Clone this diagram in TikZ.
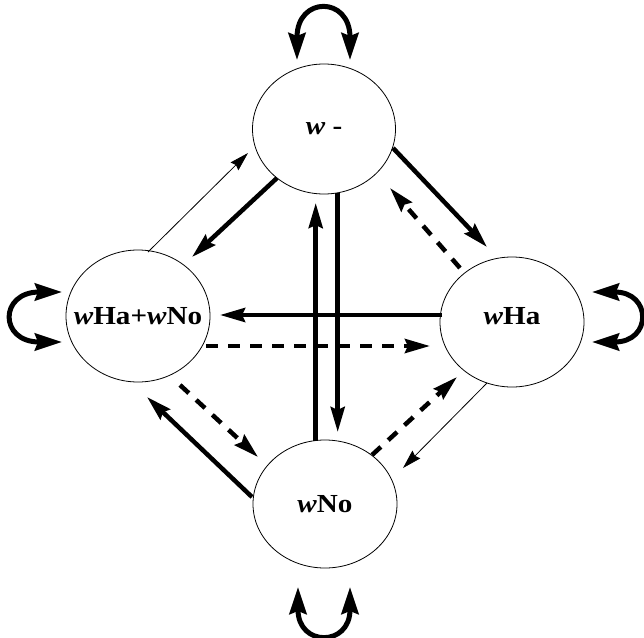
\documentclass[tikz,border=0pt]{standalone}
\usepackage{fontspec}
\setmainfont{Liberation Serif}
\newfontfamily\labfont[FakeStretch=1.12]{Liberation Serif}
\usetikzlibrary{arrows.meta,calc,shapes.geometric}
\newcommand\mklab[1]{\makebox[0pt]{#1}}
\begin{document}
\begin{tikzpicture}[x=1pt,y=-1pt,
  st/.style={ellipse, draw, line width=0.8pt, inner sep=0pt,
    minimum width=143pt, minimum height=130pt,
    font=\labfont\fontsize{26}{30}\selectfont\bfseries},
  thk/.style={line width=4.5pt, -{Stealth[length=25pt,width=14pt,inset=3pt]}},
  dsh/.style={thk, dash pattern=on 12pt off 10pt},
  thn/.style={line width=0.8pt, -{Stealth[length=19pt,width=11pt,inset=2pt]}},
  lp/.style={line width=5pt, {Stealth[length=27pt,width=17pt,inset=3pt]}-{Stealth[length=27pt,width=17pt,inset=3pt]}}]
\useasboundingbox (0,0) rectangle (644,637);
\node[st] (wm) at (324,129) {\mklab{\textit{w} -}};
\node[st, minimum width=144pt, minimum height=132pt] (wHN) at (138,316) {\mklab{\textit{w}Ha+\textit{w}No}};
\node[st, minimum width=144pt, text depth=12pt] (wHa) at (512,322) {\mklab{\textit{w}Ha}};
\node[st, minimum width=144pt, minimum height=128pt] (wNo) at (325,504) {\mklab{\textit{w}No}};
% vertical pair
\draw[thk] ($(wNo.center)+(-9.3,-63.5)$) -- ($(wm.center)+(-8.3,74)$);
\draw[thk] ($(wm.center)+(13.7,64)$) -- ($(wNo.center)+(12.7,-72)$);
% horizontal pair
\draw[thk] ($(wHa.center)+(-70,-7)$) -- ($(wHN.center)+(82,-1)$);
\draw[dsh] ($(wHN.center)+(68,30)$) -- ($(wHa.center)+(-82,24)$);
% upper left
\draw[thn] ($(wHN.center)+(10,-64)$) -- ($(wm.center)+(-76,24)$);
\draw[thk] ($(wm.center)+(-47,49)$) -- ($(wHN.center)+(54,-59)$);
% upper right
\draw[thk] ($(wm.center)+(69,19)$) -- ($(wHa.center)+(-25,-75)$);
\draw[dsh] ($(wHa.center)+(-52,-54)$) -- ($(wm.center)+(66,59)$);
% lower left
\draw[dsh] ($(wHN.center)+(42,69)$) -- ($(wNo.center)+(-67,-47)$);
\draw[thk] ($(wNo.center)+(-73,-7)$) -- ($(wHN.center)+(9,81)$);
% lower right
\draw[dsh] ($(wNo.center)+(47,-49)$) -- ($(wHa.center)+(-55,55)$);
\draw[thn] ($(wHa.center)+(-25,61)$) -- ($(wNo.center)+(78,-36)$);
% self loops
\draw[lp] ($(wm.center)+(-27,-69)$) .. controls ($(wm.center)+(-27,-133)$) and ($(wm.center)+(26,-133)$) .. ($(wm.center)+(26,-69)$);
\draw[lp] ($(wHN.center)+(-76,-24)$) .. controls ($(wHN.center)+(-139,-24)$) and ($(wHN.center)+(-139,26)$) .. ($(wHN.center)+(-76,26)$);
\draw[lp] ($(wHa.center)+(80,-30)$) .. controls ($(wHa.center)+(140,-30)$) and ($(wHa.center)+(140,20)$) .. ($(wHa.center)+(80,20)$);
\draw[lp] ($(wNo.center)+(-27,83)$) .. controls ($(wNo.center)+(-27,143)$) and ($(wNo.center)+(25,143)$) .. ($(wNo.center)+(25,83)$);
\end{tikzpicture}
\end{document}
